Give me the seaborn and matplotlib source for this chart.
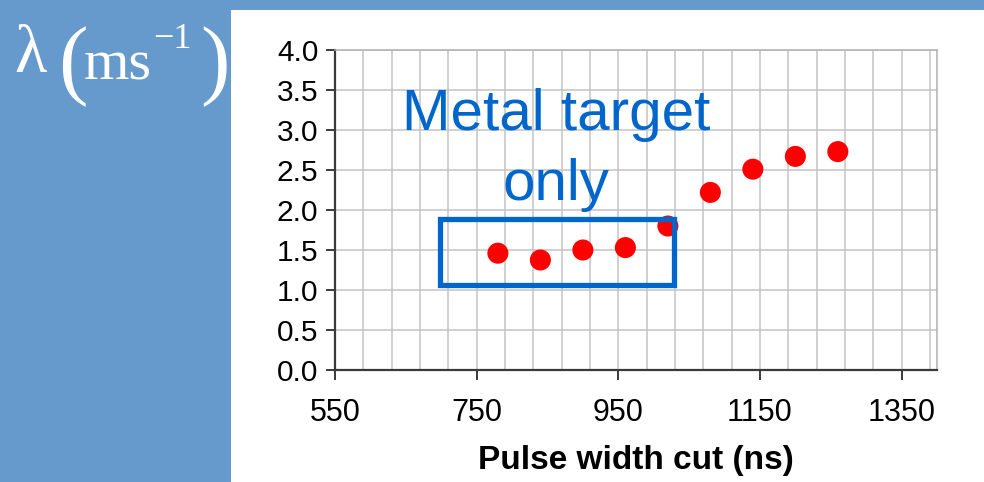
import numpy as np
import pandas as pd
import seaborn as sns
import matplotlib.pyplot as plt
from matplotlib.patches import Rectangle
from matplotlib.ticker import FixedLocator, MultipleLocator

# Attenuation coefficient vs. pulse-width cut
pulse_cut_ns = [780, 840, 900, 960, 1020, 1080, 1140, 1200, 1260]
lambda_ms = [1.46, 1.375, 1.50, 1.53, 1.80, 2.22, 2.51, 2.67, 2.73]

x_ticks = [550, 750, 950, 1150, 1350]
y_ticks = [0.0, 0.5, 1.0, 1.5, 2.0, 2.5, 3.0, 3.5, 4.0]
y_tick_labels = ["0.0", "0.5", "1.0", "1.5", "2.0", "2.5", "3.0", "3.5", "4.0"]

# "Metal target only" region
box_x = [698, 1029]
box_y = [1.06, 1.89]

sns.set_theme(style="white")
plt.rcParams["font.family"] = ["Liberation Sans", "DejaVu Sans"]

W, H = 984, 482
BG = "#6699cc"
fig = plt.figure(figsize=(W / 100, H / 100), dpi=100, facecolor=BG)

# white slide panel
fig.patches.append(Rectangle((231 / W, 0), 1 - 231 / W, 472 / H,
                             transform=fig.transFigure, facecolor="white",
                             edgecolor="none", zorder=-5))

ax = fig.add_axes([335 / W, 1 - 370 / H, (937 - 335) / W, (370 - 50) / H])
ax.set_zorder(2)
ax.set_facecolor("white")

df = pd.DataFrame({"cut": pulse_cut_ns, "lam": lambda_ms})
sns.scatterplot(data=df, x="cut", y="lam", ax=ax, color="#ff0000", s=230,
                edgecolor="none", linewidth=0, zorder=3, legend=False)

ax.set_xlim(550, 1400)
ax.set_ylim(0, 4.0)
ax.xaxis.set_major_locator(FixedLocator(x_ticks))
ax.xaxis.set_minor_locator(MultipleLocator(40, offset=550))
ax.set_xticks(x_ticks)
ax.set_xticklabels([str(v) for v in x_ticks])
ax.set_yticks(y_ticks)
ax.set_yticklabels(y_tick_labels)

ax.set_axisbelow(True)
ax.grid(True, which="both", axis="x", color="#c4c4c4", lw=1.1)
ax.grid(True, which="major", axis="y", color="#c4c4c4", lw=1.1)

for side in ("left", "bottom"):
    ax.spines[side].set_color("#3a3a3a")
    ax.spines[side].set_linewidth(1.6)
for side in ("top", "right"):
    ax.spines[side].set_color("#b0b0b0")
    ax.spines[side].set_linewidth(1.1)

ax.tick_params(axis="x", which="major", direction="out", length=7.5, width=1.4,
               color="#3a3a3a", pad=13, bottom=True)
ax.tick_params(axis="x", which="minor", length=0)
ax.tick_params(axis="y", direction="out", length=6.5, width=1.4,
               color="#3a3a3a", pad=5.5, left=True)
for lab in ax.get_xticklabels():
    lab.set_family(["Liberation Sans Narrow", "Liberation Sans"])
    lab.set_fontsize(22)
    lab.set_color("black")
for lab in ax.get_yticklabels():
    lab.set_fontsize(21.5)
    lab.set_color("black")

ax.set_ylabel("")
ax.set_xlabel("Pulse width cut (ns)", fontsize=24, fontweight="bold",
              color="black", labelpad=12)

ax.add_patch(Rectangle((box_x[0], box_y[0]), box_x[1] - box_x[0],
                       box_y[1] - box_y[0], fill=False, edgecolor="#0066cc",
                       linewidth=3.8, zorder=4))

ax.text(862, 3.0, "Metal target", ha="center", va="baseline",
        fontsize=42, color="#0066cc")
ax.text(862, 2.125, "only", ha="center", va="baseline",
        fontsize=42, color="#0066cc")

# axis quantity written on the blue margin
serif = ["Liberation Serif", "DejaVu Serif"]
def ftext(px, py, s, size, **kw):
    fig.text(px / W, 1 - py / H, s, fontsize=size, color="white",
             family=serif, va="baseline", ha="left", **kw)

ftext(14, 72, "λ", 48)
ftext(58, 88, "(", 64)
ftext(84, 80, "ms", 42)
ftext(153, 48, "−1", 26)
ftext(200, 88, ")", 64)

fig.savefig("out.png", dpi=100, facecolor=BG)
